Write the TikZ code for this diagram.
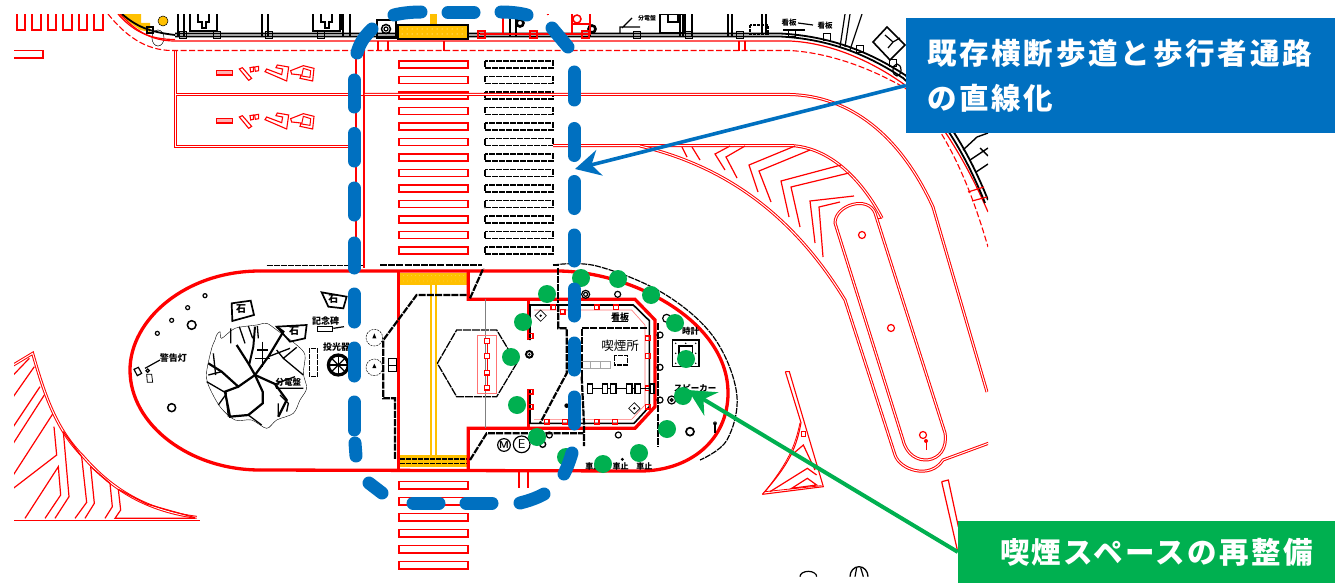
\documentclass[tikz,border=0pt]{standalone}
\usepackage{fontspec}
\usetikzlibrary{arrows.meta}
\newfontfamily\cjk{Noto Sans CJK JP}
\definecolor{myblue}{HTML}{0070C0}
\definecolor{mygreen}{HTML}{00B050}
\definecolor{myyellow}{HTML}{FFC000}
\tikzset{
 rd/.style={draw=red,line width=3pt,postaction={draw=white,line width=1pt}},
 rl/.style={draw=red,line width=1pt},
 rs/.style={draw=red,line width=1.2pt},
 rt/.style={draw=red,line width=3.3pt},
 rm/.style={draw=red,line width=1.8pt},
 rdash/.style={draw=red,line width=1.1pt,dash pattern=on 6pt off 2.5pt},
 wall/.style={draw=black,line width=2.2pt,dash pattern=on 7pt off 1.2pt},
 bk/.style={draw=black,line width=1.2pt},
 bth/.style={draw=black,line width=1.8pt},
 blu/.style={draw=myblue,line width=13pt,line cap=round},
 gdot/.style={circle,fill=mygreen,minimum size=18pt,inner sep=0pt},
 lab/.style={font=\cjk\bfseries\fontsize{#1}{#1}\selectfont,inner sep=0pt,black},
 lab/.default=9,
 z1/.style={x=.33333pt,y=-.33333pt},
 z2/.style={shift={(120,260)},x=.33333pt,y=-.33333pt},
 z3/.style={shift={(380,260)},x=.33333pt,y=-.33333pt},
 z5/.style={shift={(0,340)},x=.33333pt,y=-.33333pt},
 z6/.style={shift={(700,300)},x=.33333pt,y=-.33333pt},
 callout/.style={fill=#1,text=white,inner ysep=0pt,align=left},
 cfont/.style={font=\cjk\bfseries\fontsize{29.5}{45}\selectfont\addfontfeature{LetterSpace=#1}},
}
\begin{document}
\begin{tikzpicture}[x=1pt,y=-1pt]
\useasboundingbox (0,0) rectangle (1335,583);
\fill[white] (0,0) rectangle (1335,583);
\begin{scope}
\clip (14,15) rectangle (988,577);
% ---- top-left marks
\foreach \a/\b in {17/25,32/41,48/56,63/72,79/87,94/103}
  \draw[rs] (\a,14)--(\a,30)--(\b,30)--(\b,14);
\draw[rs] (14,50.5)--(43,50.5)--(43,58)--(14,58);
% ---- yellow kerb & top strip
\fill[myyellow] (118,14)--(141,14)--(141,23)--(150,23)--(150,32)--(140,30)--cycle;
\fill[myyellow,draw=black,line width=.5pt] (163,21) circle (5);
\draw[black,line width=.5pt] (158,38) ellipse (6 and 8);
\draw[bk] (147,27) rectangle +(6,6);
\draw[rs] (120,14) .. controls (135,30) and (150,41) .. (175,41) -- (790,41)
  .. controls (830,43) and (870,60) .. (905,85) .. controls (940,115) and (970,170) .. (988,212);
\draw[rs] (118,14) .. controls (132,30) and (148,39.5) .. (175,39.5);
\draw[rdash] (108,14) .. controls (125,35) and (145,50.5) .. (172,50.5) -- (790,50.5)
  .. controls (830,53) and (870,68) .. (905,88) .. controls (945,125) and (970,185) .. (988,247);
% kerb black
\draw[bth] (122,14) .. controls (137,27) and (150,32) .. (175,35);
\draw[bth] (175,33.5) -- (780,33.5) .. controls (830,36) and (870,52) .. (905,75) .. controls (945,110) and (970,155) .. (988,200);
\draw[bth] (175,36.5) -- (780,36.5) .. controls (830,39) and (868,55) .. (903,78) .. controls (942,113) and (967,158) .. (985,203);
% top fixtures (black)
\foreach \x in {178,184,262,268,343,350,510,516,590,680,683,692,728,732}
  \draw[bk] (\x,14)--(\x,36);
\foreach \x/\y in {183/35,217/35,269/35,321/35,637/35,689/35,740/35,792/33,827/37,860/49,893/63}
  \draw[bk] (\x-3.5,\y-3.5) rectangle +(7,7);
\foreach \x in {190,313}{
  \draw[bk,line width=1.5pt] (\x,14)--(\x,31)--(\x+27,31)--(\x+27,14);
  \draw[bk] (\x+8,14)--(\x+8,22)--(\x+12,22)--(\x+12,28)--(\x+16,28)--(\x+16,22)--(\x+19,22)--(\x+19,14);
}
\draw[bth] (341,14)--(341,30);
\draw[bth] (377,20) rectangle (396,38);
\draw[bk,line width=1.5pt] (386,29) circle (4.5); \draw[bk] (386,29) circle (2);
\draw[black,line width=2.6pt] (520,23) circle (3.5);
\draw[black,line width=2.6pt] (592,29) circle (3.5);
\draw[bk] (622,28) -- (632,18) (620,34)--(620,27)--(640,27);
\draw[bk] (660,14) rectangle (685,33); \draw[bk] (668,14)--(668,22)--(678,22)--(678,14);
\draw[bk,dash pattern=on 3pt off 1pt] (750,25) rectangle (768,34);\draw[bk] (762,14)--(762,35);\draw[bk] (766,14)--(766,35);
\draw[bk] (783,30)--(805,30);
\node[lab=7.5] (kb1) at (789,23) {看板};
\node[lab=7.5] (kb2) at (825,26) {看板};
\draw[bk] (798,23)--(813,25);
\node[lab=6] (bd1) at (647,18) {分電盤};
\draw[bk] (845,14)--(840,47) (850,14)--(845,47) (862,14)--(850,50);
\draw[bk,line width=1.6pt] (887,27)--(905,45)--(890,60)--(873,42)--cycle;
\draw[bk] (885,35)--(893,42)--(888,48) (893,42)--(900,38);
\draw[bk] (897,70) ellipse (4 and 6);
% right beyond the box
\draw[bk,line width=1.4pt] (963,150)--(977,137)--(988,133) (970,160)--(988,148) (976,172)--(988,164) (980,148)--(988,156);
% red extras
\draw[rs] (745,41)--(745,51) (739,41)--(739,51);
\draw[rs] (444,41)--(444,51) (388,41)--(388,51) (378,41)--(378,51);
\draw[rs] (968,192)--(984,187) (972,201)--(987,197);
\fill[myyellow] (430,14) rectangle (437,26);
\fill[myyellow,draw=black,line width=1.1pt] (398,25) rectangle (468,39);
\foreach \x in {402,407,...,466}\foreach \y in {29,34}\fill[white] (\x,\y) circle (.5);
\draw[rm] (480,34)--(590,34) (503,14)--(503,34) ;
\foreach \x in {481,533,585}\draw[rs] (\x-3,31) rectangle +(7,7);
\draw[rm] (572,14)--(572,34)--(590,34)--(590,14);
\draw[rm] (573,24)--(590,24);
\draw[rm] (532,15) arc(180:360:8);
\draw[red,line width=1.5pt] (577,19) circle (4);
% verticals
\draw[rs] (356,50)--(356,266);
\draw[rs] (364,51)--(364,268);
% crosswalks
\foreach \k in {0,...,12}{
  \draw[draw=red,line width=1.2pt] (399,61+15.5*\k) rectangle (468,68+15.5*\k);
  \draw[draw=black,line width=1.1pt,dash pattern=on 6pt off 1pt] (485,61+15.5*\k) rectangle (553,68+15.5*\k);
}
\foreach \k in {0,...,5}
  \draw[draw=red,line width=1.2pt] (399,481.5+16*\k) rectangle (468,489+16*\k);
\draw[rs] (519,470)--(519,488) (528,470)--(528,488);
% ---- right road
\draw[rd] (364.5,94.5)--(790,94.5) .. controls (850,96) and (900,135) .. (933,207) -- (987,392);
\draw[rd] (553,145.5)--(790,145.5) .. controls (830,147) and (862,180) .. (882,218);
\draw[draw=red,line width=.9pt] (882,218)--(876,219);
% ---- two parking boxes
\draw[rl] (174.5,51)--(174.5,147.5)--(356,147.5);
\draw[rl] (176.5,51)--(176.5,93.5)--(356,93.5);
\draw[rl] (176.5,95.5)--(176.5,145.5)--(356,145.5);
\draw[rl] (176.5,95.5)--(364,95.5);
\foreach \dy in {0,48}{
\begin{scope}[yshift=-\dy pt,z1]
 \draw[draw=red,line width=1.1pt,fill=red!30] (650,212) rectangle (697,225);
 \draw[draw=red,line width=1.1pt] (718,207)--(727,203)--(755,235)--(746,241)--cycle;
 \draw[draw=red,line width=1.1pt] (750,203)--(760,201)--(760,214)--(752,216)--cycle;
 \draw[draw=red,line width=1.1pt] (764,201)--(776,199)--(776,212)--(766,214)--cycle;
 \draw[draw=red,line width=1.1pt] (795,215)--(800,207)--(845,224)--(848,207)--(828,203)--(832,195)--(866,201)--(860,243)--cycle;
 \draw[draw=red,line width=1.1pt] (872,212)--(910,197)--(942,205)--(938,243)--(900,235)--(903,225)--(875,222)--cycle;
 \draw[draw=red,line width=1pt] (910,205)--(932,212)--(930,232)--(905,228)--cycle;
\end{scope}}
% outer curve of chevron area
\draw[rd] (640,146) .. controls (720,165) and (790,210) .. (845,300) -- (895,455)
   .. controls (900,470) and (930,480) .. (943,460) -- (992,442);
% capsule
\draw[rd] (835,223) .. controls (835,205) and (868,195) .. (875,213) -- (945,433)
   .. controls (950,465) and (910,470) .. (903,440) -- cycle;
\draw[red,line width=1.2pt] (862,235) circle (3.5);
\draw[red,line width=1.2pt] (891,328) circle (3.5);
\draw[red,line width=1.2pt] (923,435) circle (3.5);
\fill[red] (926,441) circle (2);
\draw[red,line width=1pt] (926,441)--(926,450);
% chevrons
\begin{scope}[line width=1.2pt,red]
 \draw (682,147)--(687,157);
 \draw (692,147)--(700,160);
 \draw (730,146)--(715,154)--(725,170);
 \draw (745,146)--(726,157)--(737,178);
 \draw (795,146)--(749,165)--(758,192);
 \draw (810,150)--(759,171)--(771,202);
 \draw (841,165)--(781,181)--(789,217);
 \draw (849,173)--(791,187)--(800,227);
 \draw (854,196)--(810,201)--(815,243);
 \draw (840,202)--(819,207)--(823,257);
\end{scope}
% triangle island
\begin{scope}[z6]
 \draw[draw=red,line width=1.1pt] (256,215)--(268,215)--(370,560)--(187,583);
 \draw[draw=red,line width=1.1pt] (256,215)--(303,368) .. controls (290,440) and (270,490) .. (187,583);
 \draw[draw=red,line width=.8pt] (300,368).. controls (285,440) and (265,485) .. (195,575);
 \draw[draw=red,line width=.8pt] (195,575)--(365,557);
 \draw[draw=red,line width=1.2pt] (210,575)--(322,505)--(350,525);
 \draw[draw=red,line width=1.2pt] (275,465)--(310,435)--(345,510);
 \draw[draw=red,line width=1.2pt] (275,565)--(322,535)--(350,555)--cycle;
 \draw[draw=red,line width=1pt] (303,395)--(315,395)--(315,410)--(303,410)--cycle;
 \draw[rs] (725,545)--(745,540)--(775,680) (725,545)--(772,750);
 \draw[bk] (300,830) arc(180:360:25 and 16);
 \draw[bk,line width=1.3pt] (450,830) arc(180:360:27 and 30);
 \draw[bk] (465,830)--(470,803) (490,830)--(482,803);
\end{scope}
% bottom-left hatch
\begin{scope}[z5]
 \draw[rd] (40,75)--(98,40) .. controls (135,170) and (170,270) .. (250,350) .. controls (320,430) and (420,510) .. (590,532);
 \begin{scope}[line width=1.2pt,red]
  \draw (88,55)--(40,105);
  \draw (103,80)--(40,170);
  \draw (120,140)--(40,260);
  \draw (133,165)--(40,310);
  \draw (158,222)--(40,405);
  \draw (162,260)--(170,345)--(40,445);
  \draw (75,535)--(175,380)--(182,465)--(135,535);
  \draw (190,275)--(207,470)--(165,535);
  \draw (190,275)--(245,350)--(260,487)--(225,535);
  \draw (272,380)--(283,490)--(255,535);
  \draw (272,380)--(330,430)--(337,500)--(315,535);
  \draw (355,448)--(362,510)--(345,535)--(585,535);
  \draw (355,448)--(440,492)--(585,533);
 \end{scope}
\end{scope}
\draw[rl] (14,520.5)--(200,520.5);
% ---- island outline
\draw[rt] (260,271) .. controls (185,271) and (130,320) .. (130,370) .. controls (130,425) and (190,470) .. (260,470);
\draw[rt] (260,271)--(557,271) .. controls (630,271) and (728,320) .. (728,393) .. controls (728,440) and (690,471) .. (640,471) -- (260,470);
% ---- left part of island (zoom 2 coords)
\begin{scope}[z2]
 % tree canopy outline
 \draw[black,line width=.4pt] plot[smooth cycle,tension=.5] coordinates{(290,225)(300,215)(305,235)(345,205)(410,195)(440,190)(470,210)(530,255)(555,285)(550,340)(560,385)(540,420)(520,460)(470,480)(440,505)(395,480)(345,480)(300,440)(265,375)(260,335)(275,265)(285,240)};
 \begin{scope}[draw=black,line width=1.3pt]
 \draw[line width=2.2pt] (405,345)--(385,310)--(350,255);
 \draw[line width=2.2pt] (405,345)--(445,290)--(490,215)--(470,200);
 \draw[line width=2.2pt] (405,345)--(355,380)--(305,335)--(265,310);
 \draw[line width=2.2pt] (405,345)--(428,395)--(428,430)--(385,465)--(330,470)--(315,395)--(355,380);
 \draw[line width=2.2pt] (405,345)--(465,372)--(500,420)--(475,470);
 \draw[line width=2pt] (388,312)--(400,260)--(405,200);
 \draw (332,205)--(332,250) (358,200)--(375,250) (385,198)--(398,235) (412,198)--(415,235);
 \draw (445,290)--(510,265) (470,270)--(490,295)--(530,262) (490,295)--(550,345);
 \draw (465,372)--(525,350) (465,372)--(470,385)--(550,385);
 \draw (480,405)--(505,430)--(500,455) (475,430)--(475,470);
 \draw (428,245)--(428,320) (412,270)--(443,270) (405,295)--(450,295);
 \draw (265,345)--(305,335) (260,365)--(320,400) (280,280)--(287,345);
 \draw (320,400)--(295,435) (385,465)--(425,495);
 \draw (318,405)--(325,470);
 \end{scope}
 \draw[black,line width=1.7pt] (335,130)--(392,122)--(402,165)--(337,183)--cycle;
 \draw[black,line width=1.7pt] (605,97)--(680,110)--(670,145)--(625,140)--cycle;
 \draw[black,line width=1.7pt] (470,200)--(560,195)--(555,235)--(510,245)--cycle;
 \node[lab=10] (s1) at (363,147) {石};
 \node[lab=10] (s2) at (640,117) {石};
 \node[lab=10] (s3) at (522,213) {石};
 \node[lab=9] (kn) at (617,182) {記念碑};
 \draw[bk] (592,200) rectangle (638,215);
 \draw[bk] (640,205)--(672,200);
 \node[lab=9] (tk) at (650,262) {投光器};
 \node[lab=9] (kk) at (160,293) {警告灯};
 \node[lab=8.5] (bd2) at (505,366) {分電盤};
 \draw[bk] (75,325)--(120,300);
 \draw[bk] (42,328)--(55,322)--(65,340)--(52,347)--cycle;
 \draw[bk] (83,332) circle (5); \draw[black,line width=.8pt] (80,343)--(95,343)--(98,367)--(82,367)--cycle;
 \foreach \p in {(255,107),(203,143),(155,181),(112,220)} \draw[bk] \p circle (6);
 \draw[bk,line width=1.5pt] (215,195) circle (13);
 \draw[bk,line width=1.5pt] (155,443) circle (12);
 \draw[draw=black,line width=1.1pt,dash pattern=on 5pt off 1pt] (568,265) rectangle (592,350);
 \draw[black,line width=3.2pt] (655,315) circle (30);
 \foreach \a in {0,45,...,315}\draw[bk] (655,315)--+(\a:30);
 \draw[black,line width=.5pt,dash pattern=on 2pt off 1pt] (763,233) circle (25);
 \draw[black,line width=.5pt,dash pattern=on 2pt off 1pt] (763,322) circle (25);
 \fill[black] (757,235)--(763,220)--(769,235)--cycle;
 \fill[black] (757,324)--(763,311)--(769,324)--cycle;
 \draw[black,line width=1pt] (805,295) rectangle (830,315) (805,315) rectangle (830,335);
 \draw[draw=black,line width=1.3pt,dash pattern=on 6pt off 1pt] (440,17)--(730,17);
\end{scope}
% ---- right part of island (zoom 3 coords)
\begin{scope}[z3]
 \fill[myyellow] (60,38) rectangle (265,75);
 \foreach \x in {70,82,...,260}\foreach \y in {47,63}\fill[white] (\x,\y) circle (.6);
 \fill[myyellow] (60,585) rectangle (265,622);
 \draw[myyellow,line width=1.3pt] (153,75)--(153,585) (168,75)--(168,585);
 \draw[black,line width=1.2pt,dash pattern=on 5pt off 1pt] (60,597)--(265,597) (60,610)--(265,610);
 % thick red
 \draw[rt] (55,30)--(55,632);
 \draw[rt] (265,30)--(265,118)--(765,118)--(825,180)--(825,440)--(765,505)--(265,505)--(265,632);
 \draw[rt] (445,118)--(445,240) (445,388)--(445,505);
 % pink inner
 \draw[red!55,line width=.6pt] (462,150)--(755,150)--(795,195)--(795,435)--(755,478)--(462,478);
 % black inner
 \draw[black,line width=1.6pt] (450,240)--(450,135)--(760,135)--(808,182)--(808,440)--(762,490)--(450,490)--(450,388);
 % small squares
 \foreach \x/\y in {520/142,650/142,708/142,548/155,452/228,452/395,452/440,803/235,803/288,803/385,803/440,500/485,555/485,650/485,705/485}
   \draw[draw=red,line width=1.2pt] (\x-7,\y-7) rectangle (\x+7,\y+7);
 % walls
 \draw[wall] (0,15)--(305,15);
 \draw[wall] (270,115)--(310,25);
 \draw[wall] (260,105)--(110,105)--(10,240)--(10,415)--(45,415)--(45,600);
 \draw[wall] (270,600)--(320,520)--(610,520);
 \draw[wall] (535,135)--(535,205)--(560,205)--(560,340)--(480,490);
 \draw[wall] (800,205)--(605,205)--(605,350);
 \draw[wall] (605,350)--(612,490)--(612,558);
 \draw[wall] (835,190)--(835,560);
 % hexagon
 \draw[draw=black,line width=1.3pt,dash pattern=on 8pt off 1pt] (172,310)--(230,210)--(350,210)--(410,310)--(350,410)--(230,410)--cycle;
 \draw[gray,line width=.6pt] (316,118)--(316,505);
 \draw[red!55,line width=.6pt] (293,227) rectangle (350,400);
 \draw[red,line width=1pt] (321,243)--(321,383);
 \foreach \y in {243,288,338,383}\draw[draw=red,fill=white,line width=1.2pt] (313,\y-7) rectangle (329,\y+7);
 % outer dashed arc
 \draw[draw=black,line width=1.2pt,dash pattern=on 6pt off 1pt] plot[smooth,tension=.6] coordinates{(520,15)(650,18)(850,100)(1000,230)(1070,400)(1041,540)(960,600)};
 \draw[wall] (518,15)--(535,15)--(535,130);
 % shelter interior
 \node[lab=9] (kb3) at (720,170) {看板};
 \draw[bk,line width=1.5pt] (695,184)--(745,184);
 \node[font=\cjk\fontsize{12.5}{13}\selectfont,inner sep=0pt] (ks) at (720,258) {喫煙所};
 \draw[draw=black,line width=1.3pt,dash pattern=on 5pt off 1pt] (703,287) rectangle (742,315);
 \draw[gray!70,line width=.6pt] (600,305) rectangle (690,325) (630,305)--(630,325) (660,305)--(660,325);
 \draw[bk] (620,386)--(820,386);
 \foreach \x/\w in {622/16,667/16,692/16,740/16,765/16,810/12}
   \draw[bk,fill=white] (\x,372) rectangle (\x+\w,401);
 \draw[black,line width=.6pt,fill=white] (482,150)--(499,167)--(482,184)--(465,167)--cycle;
 \fill[black] (482,167) circle (4);
 \draw[black,line width=.6pt,fill=white] (763,428)--(780,445)--(763,462)--(746,445)--cycle;
 \fill[black] (763,445) circle (4);
 \draw[black,line width=2pt] (448,283) circle (10); \fill[black] (448,283) circle (4);
 \draw[bk] (617,103) circle (12); \draw[bk] (617,103) circle (6);
 \draw[bk] (713,103) circle (9);
 \draw[bk] (860,175) circle (12);
 \foreach \y in {225,322,420}\draw[bk] (840,\y) circle (9);
 \draw[bk] (875,420) circle (12); \draw[bk] (875,420) circle (4);
 \draw[bk,line width=1.7pt] (930,515) circle (12);
 \fill[black!80] (1005,490) circle (6); \draw[bk] (1005,490)--(1005,520);
 \draw[bk] (715,525) circle (9);
 \draw[bk] (508,525) circle (9);
 \draw[bk,line width=1.4pt] (488,553) circle (9);
 \fill[black] (727,598) circle (5);
 \fill[black] (560,437) circle (7);
 % clock
 \draw[black,line width=1.5pt] (877,240) rectangle (957,320);
 \draw[black,line width=1.5pt] (897,258) rectangle (938,300);
 \foreach \x/\y in {887/250,917/250,947/250,887/280,947/280,887/310,947/310}\fill[black] (\x,\y) circle (2.5);
 \node[lab=8.5] (tok) at (932,215) {時計};
 \node[lab=8.5] (spk) at (945,385) {スピーカー};
 % M,E
 \draw[black,line width=1.2pt] (372,555) circle (19);
 \draw[black,line width=1.2pt] (425,553) circle (25);
 \node[font=\sffamily\bfseries\fontsize{10}{10}\selectfont,inner sep=0pt] (mm) at (372,555) {M};
 \node[font=\sffamily\fontsize{13}{13}\selectfont,inner sep=0pt] (ee) at (425,553) {E};
 \node[lab=8] (c1) at (640,620) {車止};
 \node[lab=8] (c2) at (722,620) {車止};
 \node[lab=8] (c3) at (793,620) {車止};
\end{scope}
\end{scope}
% ---- green dots
\foreach \n/\x/\y in {a/581/278,b/618/279,c/651/295,d/547/294,e/523/322,f/675/323,g/686/359,h/511/357,i/683/396,j/517/405,k/667/429,l/537/437,m/639/453,n/566/457,o/603/464}
  \node[gdot] (dot\n) at (\x,\y) {};
% ---- blue dashed outline
\draw[blu] (357,53) .. controls (360,42) and (365,36) .. (372,29);
\foreach \a/\b in {80/107,133.5/161,188/215,243/268,294/322,348/376,402/430}
  \draw[blu] (354,\a)--(354,\b);
\draw[blu] (355,443)--(356,456);
\draw[blu] (394,15) .. controls (402,13) and (412,12) .. (421,12);
\draw[blu] (448,12.5)--(474,12.5);
\draw[blu] (501,12) .. controls (510,12) and (520,13) .. (527,15);
\draw[blu] (552,28)--(568,47);
\foreach \a/\b in {72/100,128.5/155.5,181.5/208.5,235/261,289/316,343/370,397/424}
  \draw[blu] (574,\a)--(574,\b);
\draw[blu] (572,453) .. controls (570,460) and (567,468) .. (564,474);
\draw[blu] (544,494) .. controls (537,498) and (528,501) .. (520,503);
\draw[blu] (466,503)--(492,503);
\draw[blu] (413,503)--(439,503);
\draw[blu] (369,483)--(382,493);
% ---- callouts
\coordinate (bluetip) at (575,169);
\coordinate (greentip) at (688,390);
\node[callout=myblue,cfont=9.5,minimum width=429pt,minimum height=115pt,text width=387pt,inner xsep=21pt] (bluebox) at (1120.5,75.5) {既存横断歩道と歩行者通路\\の直線化};
\node[callout=mygreen,cfont=8,minimum width=377pt,minimum height=62pt,text width=335pt,inner xsep=21pt] (greenbox) at (1146.5,552) {\hspace*{21pt}喫煙スペースの再整備};
\draw[draw=myblue,line width=3.6pt,-{Stealth[length=25pt,width=26pt,inset=8pt]}] ([yshift=-10pt]bluebox.west) -- (bluetip);
\draw[draw=mygreen,line width=4pt,-{Stealth[length=27pt,width=27pt,inset=9pt]}] (greenbox.west) -- (greentip);
\end{tikzpicture}
\end{document}
